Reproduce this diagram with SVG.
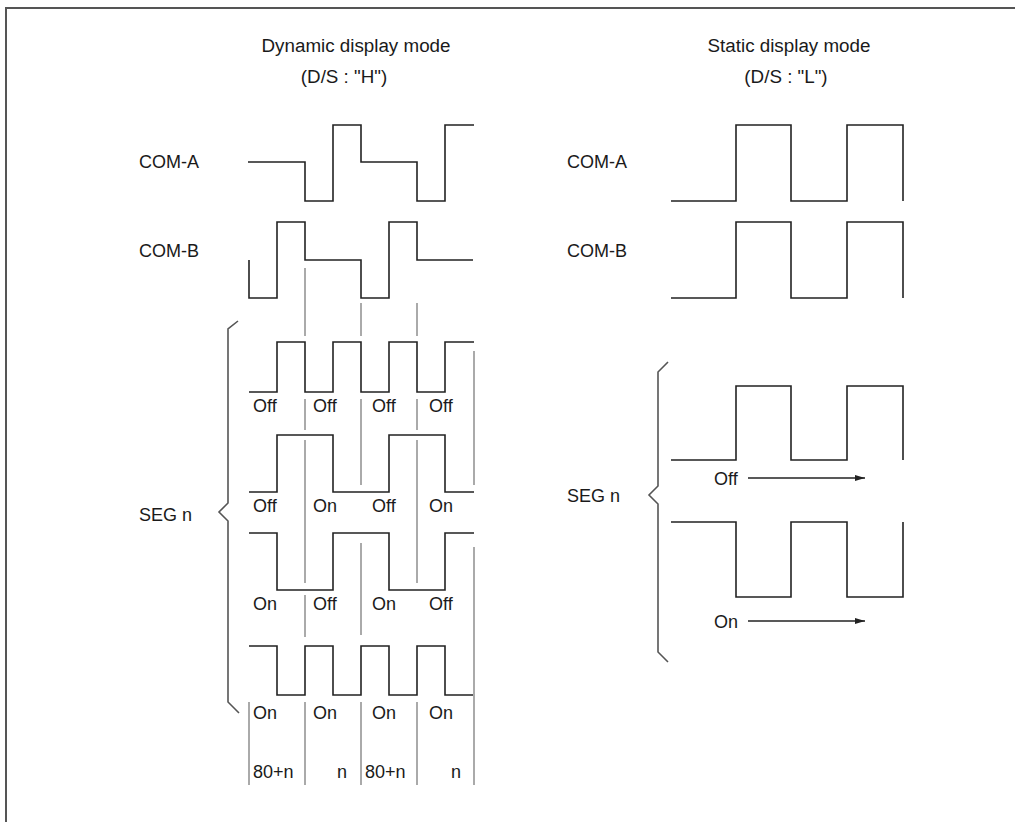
<svg xmlns="http://www.w3.org/2000/svg" width="1015" height="822" viewBox="0 0 1015 822">
<style>
.t{font-family:"Liberation Sans",Arial,sans-serif;font-size:18px;fill:#1a1a1a}
.h{font-family:"Liberation Sans",Arial,sans-serif;font-size:18.8px;fill:#1a1a1a;text-anchor:middle}
.w{fill:none;stroke:#222;stroke-width:1.6}
.g{fill:none;stroke:#aaa;stroke-width:2}
.b{fill:none;stroke:#555;stroke-width:1.6}
.a{fill:none;stroke:#222;stroke-width:1.3}
</style>
<defs>
<marker id="ah" viewBox="0 0 10 6" refX="10" refY="3" markerWidth="10" markerHeight="6" markerUnits="userSpaceOnUse" orient="auto">
<path d="M0,0 L10,3 L0,6 Z" fill="#222"/>
</marker>
</defs>
<rect width="1015" height="822" fill="#fff"/>
<path d="M6,823 V8 H1016" fill="none" stroke="#555" stroke-width="2"/>

<g id="titles">
<text class="h" x="356" y="52">Dynamic display mode</text>
<text class="h" x="344" y="83">(D/S : "H")</text>
<text class="h" x="789" y="52">Static display mode</text>
<text class="h" x="786" y="83">(D/S : "L")</text>
</g>

<g id="dynamic-labels">
<text class="t" x="139" y="168">COM-A</text>
<text class="t" x="139" y="257">COM-B</text>
<text class="t" x="139" y="521">SEG n</text>
</g>

<g id="dynamic-guides">
<path class="g" d="M305,268 V336 M305,399 V430 M305,440 V583 M305,595 V637 M305,702 V785"/>
<path class="g" d="M361,303 V336 M361,399 V485 M361,543 V635 M361,702 V785"/>
<path class="g" d="M417,303 V336 M417,399 V430 M417,440 V583 M417,702 V785"/>
<path class="g" d="M474,351 V485 M474,547 V785"/>
<path class="g" d="M249,702 V785"/>
</g>

<g id="dynamic-waves">
<path class="w" d="M248,162 H305 V201 H333 V125 H361 V162 H417 V201 H445 V125 H474"/>
<path class="w" d="M249,260 V298 H277 V222 H305 V260 H361 V298 H389 V222 H417 V260 H473"/>
<path class="w" d="M249,392 H277 V342 H305 V392 H333 V342 H361 V392 H389 V342 H417 V392 H445 V342 H474"/>
<path class="w" d="M249,492 H277 V435 H333 V492 H389 V435 H445 V492 H474"/>
<path class="w" d="M249,533 H277 V590 H333 V533 H389 V590 H445 V533 H474"/>
<path class="w" d="M249,646 H277 V695 H305 V646 H333 V695 H361 V646 H389 V695 H417 V646 H445 V695 H473"/>
</g>

<g id="dynamic-brace">
<path class="b" d="M238,321 L228,329 V503 L219,512 L228,521 V702 L239,713"/>
</g>

<g id="dynamic-states">
<text class="t" x="253" y="412">Off</text>
<text class="t" x="313" y="412">Off</text>
<text class="t" x="372" y="412">Off</text>
<text class="t" x="429" y="412">Off</text>
<text class="t" x="253" y="512">Off</text>
<text class="t" x="313" y="512">On</text>
<text class="t" x="372" y="512">Off</text>
<text class="t" x="429" y="512">On</text>
<text class="t" x="253" y="610">On</text>
<text class="t" x="313" y="610">Off</text>
<text class="t" x="372" y="610">On</text>
<text class="t" x="429" y="610">Off</text>
<text class="t" x="253" y="719">On</text>
<text class="t" x="313" y="719">On</text>
<text class="t" x="372" y="719">On</text>
<text class="t" x="429" y="719">On</text>
<text class="t" x="253" y="778">80+n</text>
<text class="t" x="337" y="778">n</text>
<text class="t" x="365" y="778">80+n</text>
<text class="t" x="451" y="778">n</text>
</g>

<g id="static-labels">
<text class="t" x="567" y="168">COM-A</text>
<text class="t" x="567" y="257">COM-B</text>
<text class="t" x="567" y="502">SEG n</text>
</g>

<g id="static-waves">
<path class="w" d="M671,201 H736 V125 H791 V201 H847 V125 H903 V201"/>
<path class="w" d="M671,298 H736 V222 H791 V298 H847 V222 H903 V298"/>
<path class="w" d="M671,460 H736 V386 H791 V460 H847 V386 H903 V460"/>
<path class="w" d="M671,522 H736 V597 H791 V522 H847 V597 H903 V522"/>
</g>

<g id="static-brace">
<path class="b" d="M668,362 L658,372 V486 L649,495 L658,504 V652 L668,662"/>
</g>

<g id="static-states">
<text class="t" x="714" y="485">Off</text>
<text class="t" x="714" y="628">On</text>
</g>

<g id="connectors">
<line class="a" x1="748" y1="478" x2="865" y2="478" marker-end="url(#ah)"/>
<line class="a" x1="748" y1="621" x2="865" y2="621" marker-end="url(#ah)"/>
</g>
</svg>
